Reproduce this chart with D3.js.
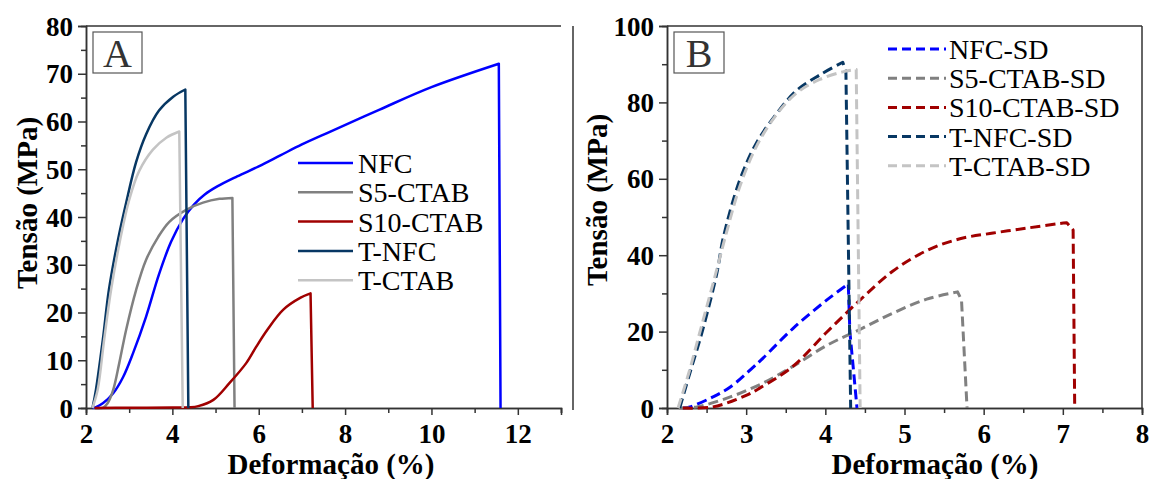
<!DOCTYPE html>
<html>
<head>
<meta charset="utf-8">
<script src="https://cdn.jsdelivr.net/npm/d3@7"></script>
<style>
  body { margin: 0; background: #fff; }
  svg text { font-family: "Liberation Serif", "Times New Roman", serif; }
</style>
</head>
<body>
<svg id="chart" width="1151" height="479"></svg>
<script>
// ---- data (strain %, stress MPa); points after the peak are the break
var labelsA = ["NFC", "S5-CTAB", "S10-CTAB", "T-NFC", "T-CTAB"];
var labelsB = ["NFC-SD", "S5-CTAB-SD", "S10-CTAB-SD", "T-NFC-SD", "T-CTAB-SD"];
var colors = ["#0000ff", "#808080", "#a00000", "#073763", "#c4c4c4"];

var nfcA = [[2.15,0],[2.23,0.2],[2.39,1],[2.63,3.1],[2.86,6.5],[3.09,11.5],[3.39,19.1],[3.69,28],[3.97,34.8],[4.25,39.6],[4.5,42.6],[4.75,44.7],[5.04,46.4],[5.5,48.5],[6.0,50.6],[6.5,52.9],[7.0,55.2],[7.66,57.9],[8.8,62.5],[10.0,67.2],[11.56,72.1],[11.6,0]];
var s5A = [[2.2,0],[2.4,0.1],[2.5,1],[2.63,3.8],[2.77,9.4],[2.93,16.4],[3.16,24.7],[3.39,31],[3.67,35.8],[3.93,39],[4.32,41.5],[4.71,43],[5.09,43.8],[5.39,44],[5.44,0]];
var s10A = [[2.2,0],[3.0,0.05],[4.0,0.1],[4.4,0.15],[4.6,0.4],[4.95,1.7],[5.32,5.2],[5.71,9.4],[5.94,12.8],[6.2,16.4],[6.57,20.6],[6.97,23.1],[7.2,24],[7.25,0]];
var tnfcA = [[2.15,0],[2.23,3.8],[2.39,14.3],[2.53,24.7],[2.74,35.2],[2.93,43],[3.16,51.5],[3.39,57.3],[3.69,62.3],[4.02,65.2],[4.3,66.7],[4.37,0]];
var tctabA = [[2.15,0],[2.27,3.8],[2.42,14.3],[2.58,24.7],[2.79,35.2],[3.0,43.6],[3.23,49.6],[3.55,54.1],[3.86,56.6],[4.16,57.9],[4.24,0]];

var nfcB = [[2.2,0],[2.29,0.3],[2.58,2.9],[2.8,5.5],[3.09,10.7],[3.21,13],[3.59,20.8],[4.02,28.3],[4.29,32.5],[4.31,20],[4.4,0]];
var s5B = [[2.15,0],[2.38,0.3],[2.8,2.9],[3.21,6.5],[3.59,10.9],[4.02,16.4],[4.44,20.6],[4.85,24.8],[5.28,28.5],[5.67,30.4],[5.72,28.3],[5.79,0]];
var s10B = [[2.2,0],[2.58,0.3],[3.0,3.3],[3.17,5.2],[3.59,10.9],[4.02,19.9],[4.44,28.3],[4.85,35.8],[5.28,41.2],[5.7,44.3],[6.12,45.8],[6.55,47.1],[6.96,48.3],[7.05,48.5],[7.13,46.6],[7.15,0]];
var tnfcB = [[2.16,0],[2.29,9.2],[2.45,20.4],[2.63,35.3],[2.71,44.5],[2.92,59.7],[3.13,69.4],[3.39,77.2],[3.64,83.2],[3.93,87.2],[4.22,90.5],[4.26,88],[4.32,0]];
var tctabB = [[2.14,0],[2.28,9.5],[2.43,21],[2.6,34],[2.76,46.6],[2.92,58],[3.13,68.5],[3.39,77],[3.64,82.5],[3.93,86],[4.22,88],[4.39,88.6],[4.44,0]];

var seriesA = [nfcA, s5A, s10A, tnfcA, tctabA];
var seriesB = [nfcB, s5B, s10B, tnfcB, tctabB];

var svg = d3.select("#chart");
var axisColor = "#333";

function boldText(sel, size){
  sel.attr("font-size", size)
     .attr("font-weight", "bold")
     .style("font-family", "'Liberation Serif', serif")
     .attr("fill", "#000");
}

function drawPanel(opt){
  var x = d3.scaleLinear().domain(opt.xDomain).range([opt.left, opt.right]);
  var y = d3.scaleLinear().domain(opt.yDomain).range([opt.bottom, opt.top]);
  var g = svg.append("g");

  // frame
  g.append("line").attr("x1", opt.left).attr("x2", opt.right)
   .attr("y1", opt.top).attr("y2", opt.top)
   .attr("stroke", axisColor).attr("stroke-width", 1.5);
  g.append("line").attr("x1", opt.frameRight).attr("x2", opt.frameRight)
   .attr("y1", opt.top).attr("y2", opt.frameBottom)
   .attr("stroke", axisColor).attr("stroke-width", 1.5);

  // x axis: minor then major
  var xAxis = g.append("g").attr("transform", "translate(0," + opt.bottom + ")");
  xAxis.call(d3.axisBottom(x).tickValues(opt.xMinor).tickSize(5).tickFormat(""));
  xAxis.append("g").call(d3.axisBottom(x).tickValues(opt.xMajor).tickSize(7).tickPadding(6).tickFormat(d3.format("d")));
  // y axis
  var yAxis = g.append("g").attr("transform", "translate(" + opt.left + ",0)");
  yAxis.call(d3.axisLeft(y).tickValues(opt.yMinor).tickSize(5).tickFormat(""));
  yAxis.append("g").call(d3.axisLeft(y).tickValues(opt.yMajor).tickSize(8).tickPadding(5).tickFormat(d3.format("d")));

  g.selectAll(".domain").attr("stroke", axisColor).attr("stroke-width", 1.5);
  g.selectAll(".tick line").attr("stroke", axisColor).attr("stroke-width", 1.5);
  boldText(g.selectAll(".tick text"), 27);
  xAxis.selectAll(".tick text").attr("dy", "0.8em");
  yAxis.selectAll(".tick text").attr("dy", "0.34em");

  // axis titles
  g.append("text").attr("x", opt.xTitleX).attr("y", 474)
   .attr("text-anchor", "middle").call(boldText, 29)
   .text("Deformação (%)");
  g.append("text")
   .attr("transform", "translate(" + opt.yTitleX + "," + opt.yTitleY + ") rotate(-90)")
   .attr("text-anchor", "middle").call(boldText, 29)
   .text("Tensão (MPa)");

  // panel letter
  g.append("rect").attr("x", opt.left + 7).attr("y", 32).attr("width", opt.boxW).attr("height", 41)
   .attr("fill", "none").attr("stroke", "#555").attr("stroke-width", 1.2);
  g.append("text").attr("x", opt.left + 7 + opt.boxW / 2).attr("y", 67)
   .attr("text-anchor", "middle").attr("font-size", 40).attr("fill", "#333")
   .text(opt.letter);

  // curves: smooth up to the peak, straight lines for the break
  var curve = d3.line()
    .curve(d3.curveCatmullRom.alpha(0.5))
    .x(function(d){ return x(d[0]); })
    .y(function(d){ return y(d[1]); });
  opt.series.forEach(function(s, i){
    var peak = d3.maxIndex(s, function(d){ return d[1]; });
    var rise = s.slice(0, peak + 1);
    var d = curve(rise);
    s.slice(peak + 1).forEach(function(p){ d += "L" + x(p[0]) + "," + y(p[1]); });
    g.append("path")
     .attr("d", d)
     .attr("fill", "none")
     .attr("stroke", colors[i])
     .attr("stroke-width", opt.dashed ? 3 : 2.5)
     .attr("stroke-dasharray", opt.dashed ? "10,5" : null)
     .attr("stroke-linejoin", "round");
  });

  // legend
  opt.labels.forEach(function(lab, i){
    var ly = opt.legY + i * opt.legStep;
    g.append("line").attr("x1", opt.legX).attr("x2", opt.legX + opt.legLen)
     .attr("y1", ly).attr("y2", ly)
     .attr("stroke", colors[i]).attr("stroke-width", opt.dashed ? 3 : 2.5)
     .attr("stroke-dasharray", opt.dashed ? "9,5" : null);
    g.append("text").attr("x", opt.legX + opt.legLen + opt.legGap).attr("y", ly + 10)
     .attr("font-size", 28).attr("fill", "#000").text(lab);
  });
}

drawPanel({
  letter: "A", series: seriesA, labels: labelsA, dashed: false,
  xDomain: [2, 13], yDomain: [0, 80],
  left: 86, right: 561, top: 26, bottom: 408, frameRight: 573, frameBottom: 410,
  xMajor: [2, 4, 6, 8, 10, 12], xMinor: [3, 5, 7, 9, 11, 13],
  yMajor: [0, 10, 20, 30, 40, 50, 60, 70, 80], yMinor: [5, 15, 25, 35, 45, 55, 65, 75],
  xTitleX: 331, yTitleX: 37, yTitleY: 203, boxW: 49,
  legX: 298, legY: 163, legStep: 29.3, legLen: 55, legGap: 5
});

drawPanel({
  letter: "B", series: seriesB, labels: labelsB, dashed: true,
  xDomain: [2, 8], yDomain: [0, 100],
  left: 667, right: 1142, top: 26, bottom: 408, frameRight: 1142, frameBottom: 408,
  xMajor: [2, 3, 4, 5, 6, 7, 8], xMinor: [2.5, 3.5, 4.5, 5.5, 6.5, 7.5],
  yMajor: [0, 20, 40, 60, 80, 100], yMinor: [10, 30, 50, 70, 90],
  xTitleX: 935, yTitleX: 607, yTitleY: 200, boxW: 50,
  legX: 888, legY: 49, legStep: 29.2, legLen: 58, legGap: 3
});
</script>
</body>
</html>
